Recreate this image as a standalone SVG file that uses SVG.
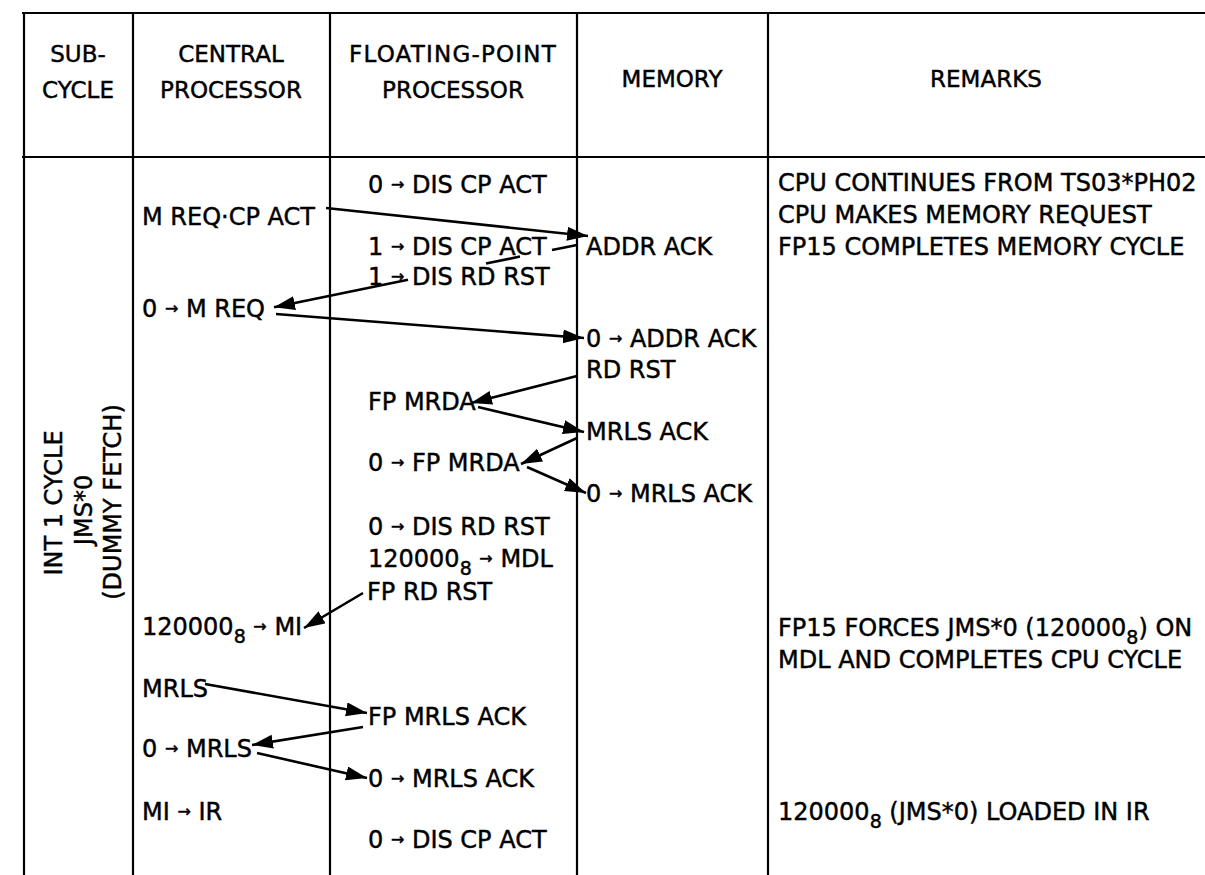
<svg xmlns="http://www.w3.org/2000/svg" width="1205" height="875" viewBox="0 0 1205 875">
<style>
text{font-family:"DejaVu Sans","Liberation Sans",sans-serif;font-size:24px;fill:#000;stroke:#000;stroke-width:0.45}
.h{font-size:23px;text-anchor:middle}
.ar{font-size:16px}
.sub{font-size:19px}
.grid{stroke:#000;stroke-width:2.2;fill:none}
.con{stroke:#000;stroke-width:2.6;fill:none;marker-end:url(#ah)}
</style>
<defs>
<marker id="ah" markerUnits="userSpaceOnUse" markerWidth="24" markerHeight="16" refX="21" refY="7" orient="auto">
<path d="M0,0 L21,7 L0,14 z" fill="#000"/>
</marker>
</defs>
<rect width="1205" height="875" fill="#fff"/>
<g id="table" class="grid">
<line x1="22" y1="13" x2="1205" y2="13"/>
<line x1="22" y1="157" x2="1205" y2="157"/>
<line x1="24" y1="12" x2="24" y2="875"/>
<line x1="133" y1="12" x2="133" y2="875"/>
<line x1="330" y1="12" x2="330" y2="875"/>
<line x1="577" y1="12" x2="577" y2="875"/>
<line x1="768" y1="12" x2="768" y2="875"/>
</g>
<g id="headers">
<text class="h" x="78" y="62">SUB-</text>
<text class="h" x="78" y="98">CYCLE</text>
<text class="h" x="231" y="62">CENTRAL</text>
<text class="h" x="231" y="98">PROCESSOR</text>
<text class="h" x="453" y="62" letter-spacing="1.2">FLOATING-POINT</text>
<text class="h" x="453" y="98">PROCESSOR</text>
<text class="h" x="672" y="87">MEMORY</text>
<text class="h" x="986" y="87">REMARKS</text>
</g>
<g id="subcycle">
<text text-anchor="middle" transform="translate(62,503) rotate(-90)">INT 1 CYCLE</text>
<text text-anchor="middle" transform="translate(92,510) rotate(-90)">JMS*0</text>
<text text-anchor="middle" transform="translate(121,502) rotate(-90)">(DUMMY FETCH)</text>
</g>
<g id="connectors">
<path class="con" d="M326,208 L588,236"/>
<path class="con" d="M577,245 L552,250 M520,256.6 L486,263.6 M408,279.8 L274,307.3"/>
<path class="con" d="M276,314 L584,338"/>
<path class="con" d="M577,376 L471,403"/>
<path class="con" d="M478,407 L584,432"/>
<path class="con" d="M577,438 L521,464"/>
<path class="con" d="M527,467 L586,493"/>
<path class="con" d="M363,593 L304,628"/>
<path class="con" d="M205,684 L367,713"/>
<path class="con" d="M363,727 L252,745"/>
<path class="con" d="M257,753 L367,778"/>
</g>
<g id="cp">
<text id="cp1" x="142" y="225">M REQ·CP ACT</text>
<text id="cp2" x="142" y="317">0 <tspan class="ar" dy="-3">→</tspan><tspan dy="3"> M REQ</tspan></text>
<text id="cp3" x="142" y="635">120000<tspan class="sub" dy="8">8</tspan><tspan dy="-8"> </tspan><tspan class="ar" dy="-3">→</tspan><tspan dy="3"> MI</tspan></text>
<text id="cp4" x="142" y="697">MRLS</text>
<text id="cp5" x="142" y="757">0 <tspan class="ar" dy="-3">→</tspan><tspan dy="3"> MRLS</tspan></text>
<text id="cp6" x="142" y="820">MI <tspan class="ar" dy="-3">→</tspan><tspan dy="3"> IR</tspan></text>
</g>
<g id="fp">
<text id="fp1" x="368" y="193">0 <tspan class="ar" dy="-3">→</tspan><tspan dy="3"> DIS CP ACT</tspan></text>
<text id="fp2" x="368" y="255">1 <tspan class="ar" dy="-3">→</tspan><tspan dy="3"> DIS CP ACT</tspan></text>
<text id="fp3" x="368" y="285">1 <tspan class="ar" dy="-3">→</tspan><tspan dy="3"> DIS RD RST</tspan></text>
<text id="fp4" x="368" y="410">FP MRDA</text>
<text id="fp5" x="368" y="471">0 <tspan class="ar" dy="-3">→</tspan><tspan dy="3"> FP MRDA</tspan></text>
<text id="fp6" x="368" y="535">0 <tspan class="ar" dy="-3">→</tspan><tspan dy="3"> DIS RD RST</tspan></text>
<text id="fp7" x="368" y="567">120000<tspan class="sub" dy="8">8</tspan><tspan dy="-8"> </tspan><tspan class="ar" dy="-3">→</tspan><tspan dy="3"> MDL</tspan></text>
<text id="fp8" x="367" y="600">FP RD RST</text>
<text id="fp9" x="368" y="725">FP MRLS ACK</text>
<text id="fp10" x="368" y="787">0 <tspan class="ar" dy="-3">→</tspan><tspan dy="3"> MRLS ACK</tspan></text>
<text id="fp11" x="368" y="848">0 <tspan class="ar" dy="-3">→</tspan><tspan dy="3"> DIS CP ACT</tspan></text>
</g>
<g id="mem">
<text id="m1" x="586" y="255">ADDR ACK</text>
<text id="m2" x="586" y="347">0 <tspan class="ar" dy="-3">→</tspan><tspan dy="3"> ADDR ACK</tspan></text>
<text id="m3" x="586" y="378">RD RST</text>
<text id="m4" x="586" y="440">MRLS ACK</text>
<text id="m5" x="586" y="502">0 <tspan class="ar" dy="-3">→</tspan><tspan dy="3"> MRLS ACK</tspan></text>
</g>
<g id="remarks">
<text id="r1" x="778" y="191">CPU CONTINUES FROM TS03*PH02</text>
<text id="r2" x="778" y="223">CPU MAKES MEMORY REQUEST</text>
<text id="r3" x="778" y="255">FP15 COMPLETES MEMORY CYCLE</text>
<text id="r4" x="778" y="636">FP15 FORCES JMS*0 (120000<tspan class="sub" dy="8">8</tspan><tspan dy="-8">) ON</tspan></text>
<text id="r5" x="778" y="668">MDL AND COMPLETES CPU CYCLE</text>
<text id="r6" x="778" y="820">120000<tspan class="sub" dy="8">8</tspan><tspan dy="-8"> (JMS*0) LOADED IN IR</tspan></text>
</g>
</svg>
